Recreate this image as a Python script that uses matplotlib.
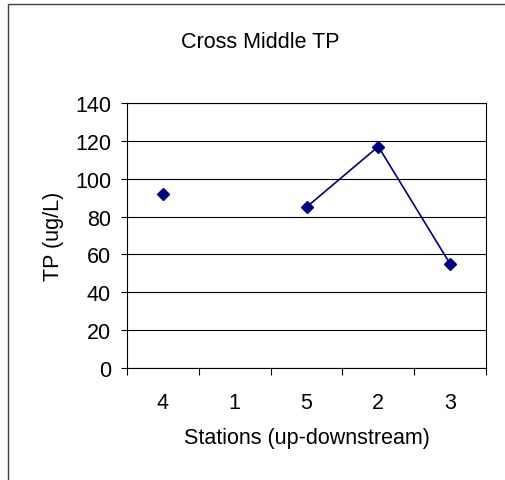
import numpy as np
import matplotlib.pyplot as plt
from matplotlib.patches import Rectangle
from matplotlib.ticker import FixedLocator, NullFormatter

plt.rcParams['font.family'] = ['Liberation Sans', 'DejaVu Sans']

stations = ['4', '1', '5', '2', '3']
tp = np.array([92, np.nan, 85, 117, 55])
y_ticks = [0, 20, 40, 60, 80, 100, 120, 140]

fig = plt.figure(figsize=(5.05, 4.81), dpi=100)

# outer chart border (cut off on right and bottom like the source)
fig.patches.append(Rectangle((8 / 505, -0.2), 1.5, 1.2 - 5 / 481,
                             transform=fig.transFigure, fill=False,
                             edgecolor='#404040', linewidth=1.0))

ax = fig.add_axes([0.2515, 0.2328, 0.7109, 0.551])
x = np.arange(len(stations))
ax.plot(x, tp, color='#000080', lw=1.2, marker='D', markersize=6,
        markerfacecolor='#000080', markeredgecolor='#000080', zorder=3)

ax.set_xlim(-0.5, len(stations) - 0.5)
ax.set_ylim(0, 140)
ax.set_yticks(y_ticks)
ax.yaxis.grid(True, color='black', lw=0.8)
ax.set_axisbelow(True)

ax.set_xticks(x)
ax.set_xticklabels(stations)
ax.xaxis.set_minor_locator(FixedLocator(np.arange(-0.5, len(stations), 1.0)))
ax.xaxis.set_minor_formatter(NullFormatter())
ax.tick_params(axis='x', which='major', length=0, pad=17, labelsize=15.5)
ax.tick_params(axis='x', which='minor', length=5, width=0.8, direction='out')
ax.tick_params(axis='y', length=4.5, width=0.8, direction='out', pad=7, labelsize=15.5)

for s in ax.spines.values():
    s.set_linewidth(0.8)
    s.set_color('black')

ax.set_xlabel('Stations (up-downstream)', fontsize=15.5, labelpad=10)
ax.set_ylabel('TP (ug/L)', fontsize=15.5, labelpad=8)
fig.text(260 / 505, 1 - 42 / 481, 'Cross Middle TP', fontsize=15.5,
         ha='center', va='center')

fig.savefig('out.png', dpi=100)
